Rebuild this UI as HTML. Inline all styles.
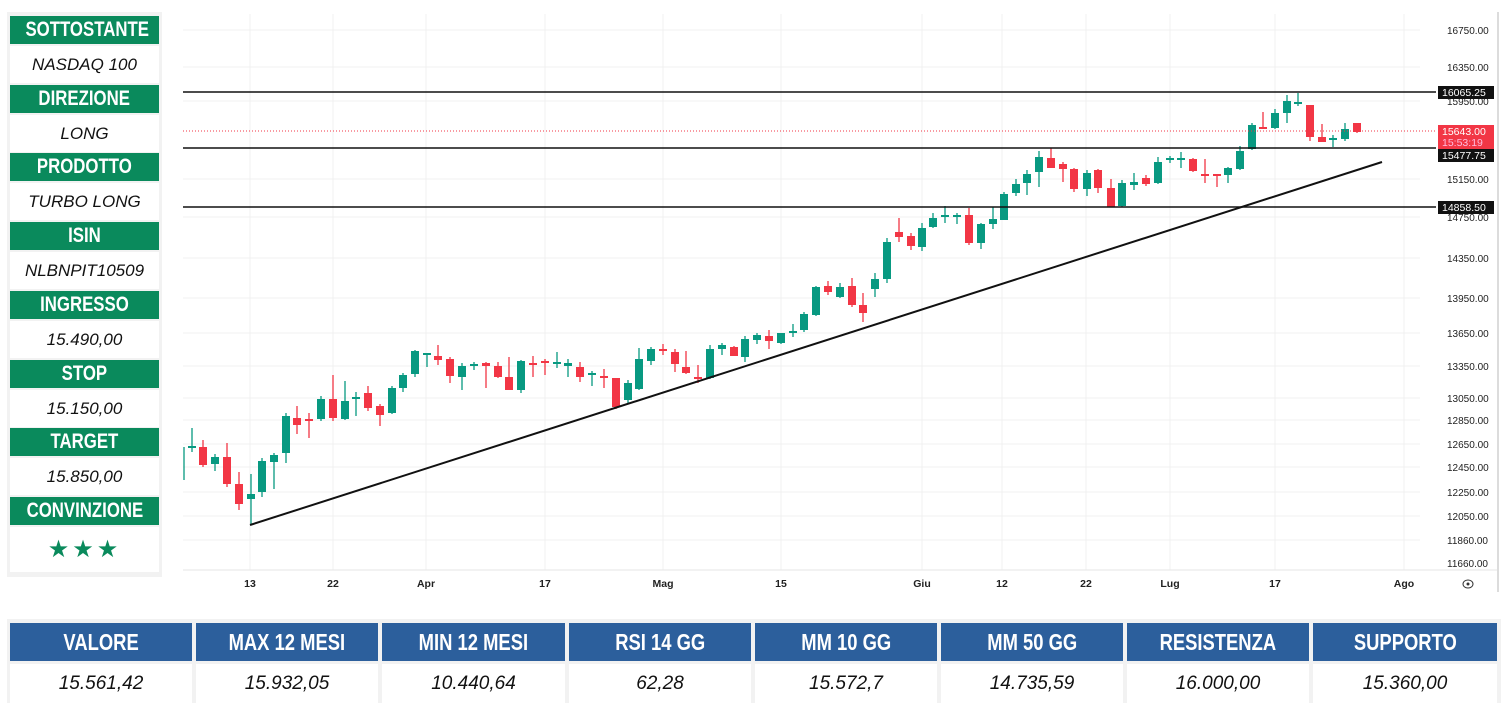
<!DOCTYPE html>
<html><head><meta charset="utf-8"><style>
body{margin:0;width:1511px;height:703px;background:#fff;position:relative;overflow:hidden;font-family:"Liberation Sans",sans-serif}
.panel{position:absolute;left:7px;top:12px;width:155px;height:565px;background:#f2f2f2}
.h{position:absolute;left:3px;width:149px;height:28px;background:#0a8a5c;color:#fff;font-weight:bold;font-size:21px;line-height:28px;text-align:center;white-space:nowrap}
.h span,.th span{display:inline-block;transform:scaleX(0.8)}
.v{position:absolute;left:3px;width:149px;height:37px;background:#fff;color:#111;font-style:italic;font-size:17px;line-height:37px;text-align:center}
.tb{position:absolute;top:619px;left:7px;width:1494px;height:84px;background:#f2f2f2}
.th{position:absolute;top:4px;height:38px;background:#2c5f9c;color:#fff;font-weight:bold;font-size:23px;line-height:38px;text-align:center;white-space:nowrap}
.td{position:absolute;top:45px;height:39px;background:#fff;color:#111;font-style:italic;font-size:19px;line-height:39px;text-align:center}
</style></head><body>
<div class="panel">
<div class="h" style="top:4px"><span>SOTTOSTANTE</span></div><div class="v" style="top:34px">NASDAQ 100</div>
<div class="h" style="top:73px"><span>DIREZIONE</span></div><div class="v" style="top:103px">LONG</div>
<div class="h" style="top:141px"><span>PRODOTTO</span></div><div class="v" style="top:171px">TURBO LONG</div>
<div class="h" style="top:210px"><span>ISIN</span></div><div class="v" style="top:240px">NLBNPIT10509</div>
<div class="h" style="top:279px"><span>INGRESSO</span></div><div class="v" style="top:309px">15.490,00</div>
<div class="h" style="top:348px"><span>STOP</span></div><div class="v" style="top:378px">15.150,00</div>
<div class="h" style="top:416px"><span>TARGET</span></div><div class="v" style="top:446px">15.850,00</div>
<div class="h" style="top:485px"><span>CONVINZIONE</span></div><div class="v" style="top:515px;height:45px;line-height:45px;color:#0a8a5c;font-style:normal;font-size:24px;letter-spacing:3px">★★★</div>
</div>
<svg id="ch" width="1511" height="610" style="position:absolute;left:0;top:0" xmlns="http://www.w3.org/2000/svg">
<g stroke="#f0f0f0" stroke-width="1">
<line x1="183" y1="30" x2="1420" y2="30"/><line x1="183" y1="67" x2="1420" y2="67"/><line x1="183" y1="101" x2="1420" y2="101"/><line x1="183" y1="179" x2="1420" y2="179"/><line x1="183" y1="217" x2="1420" y2="217"/><line x1="183" y1="258" x2="1420" y2="258"/><line x1="183" y1="298" x2="1420" y2="298"/><line x1="183" y1="333" x2="1420" y2="333"/><line x1="183" y1="366" x2="1420" y2="366"/><line x1="183" y1="398" x2="1420" y2="398"/><line x1="183" y1="420" x2="1420" y2="420"/><line x1="183" y1="444" x2="1420" y2="444"/><line x1="183" y1="467" x2="1420" y2="467"/><line x1="183" y1="492" x2="1420" y2="492"/><line x1="183" y1="516" x2="1420" y2="516"/><line x1="183" y1="540" x2="1420" y2="540"/>
<line x1="250" y1="14" x2="250" y2="570"/><line x1="333" y1="14" x2="333" y2="570"/><line x1="426" y1="14" x2="426" y2="570"/><line x1="545" y1="14" x2="545" y2="570"/><line x1="663" y1="14" x2="663" y2="570"/><line x1="781" y1="14" x2="781" y2="570"/><line x1="922" y1="14" x2="922" y2="570"/><line x1="1002" y1="14" x2="1002" y2="570"/><line x1="1086" y1="14" x2="1086" y2="570"/><line x1="1170" y1="14" x2="1170" y2="570"/><line x1="1275" y1="14" x2="1275" y2="570"/><line x1="1404" y1="14" x2="1404" y2="570"/>
</g>
<line x1="183" y1="570" x2="1497" y2="570" stroke="#e6e6e6"/>
<line x1="1498" y1="12" x2="1498" y2="592" stroke="#dcdcdc" stroke-width="2"/>
<g id="cd"></g>
<line x1="183" y1="131" x2="1436" y2="131" stroke="#f23645" stroke-width="1" stroke-dasharray="1,2"/>
<g stroke="#111" stroke-width="1.6">
<line x1="183" y1="92" x2="1436" y2="92"/><line x1="183" y1="148" x2="1436" y2="148"/><line x1="183" y1="207" x2="1436" y2="207"/>
<line x1="250" y1="525" x2="1382" y2="162" stroke-width="2"/>
</g>
<g font-size="10" fill="#222" font-family="Liberation Sans,sans-serif">
<text x="1447" y="34">16750.00</text><text x="1447" y="71">16350.00</text><text x="1447" y="105">15950.00</text><text x="1447" y="183">15150.00</text><text x="1447" y="221">14750.00</text><text x="1447" y="262">14350.00</text><text x="1447" y="302">13950.00</text><text x="1447" y="337">13650.00</text><text x="1447" y="370">13350.00</text><text x="1447" y="402">13050.00</text><text x="1447" y="424">12850.00</text><text x="1447" y="448">12650.00</text><text x="1447" y="471">12450.00</text><text x="1447" y="496">12250.00</text><text x="1447" y="520">12050.00</text><text x="1447" y="544">11860.00</text><text x="1447" y="567">11660.00</text>
</g>
<rect x="1438" y="86" width="56" height="13" fill="#111"/><text x="1442" y="96" font-size="10.5" fill="#fff">16065.25</text>
<rect x="1438" y="125" width="56" height="24" fill="#f23645"/><text x="1442" y="135" font-size="10.5" fill="#fff">15643.00</text><text x="1442" y="146" font-size="10.5" fill="#fbd">15:53:19</text>
<rect x="1438" y="149" width="56" height="13" fill="#111"/><text x="1442" y="159" font-size="10.5" fill="#fff">15477.75</text>
<rect x="1438" y="201" width="56" height="13" fill="#111"/><text x="1442" y="211" font-size="10.5" fill="#fff">14858.50</text>
<g font-size="10.5" fill="#222" text-anchor="middle" font-weight="bold">
<text x="250" y="587">13</text><text x="333" y="587">22</text><text x="426" y="587">Apr</text><text x="545" y="587">17</text><text x="663" y="587">Mag</text><text x="781" y="587">15</text><text x="922" y="587">Giu</text><text x="1002" y="587">12</text><text x="1086" y="587">22</text><text x="1170" y="587">Lug</text><text x="1275" y="587">17</text><text x="1404" y="587">Ago</text>
</g>
<ellipse cx="1468" cy="584" rx="5" ry="4" fill="none" stroke="#333"/><circle cx="1468" cy="584" r="1.5" fill="#333"/>
</svg>
<div class="tb">
<div class="th" style="left:3px;width:182px"><span>VALORE</span></div><div class="td" style="left:3px;width:182px">15.561,42</div>
<div class="th" style="left:189px;width:182px"><span>MAX 12 MESI</span></div><div class="td" style="left:189px;width:182px">15.932,05</div>
<div class="th" style="left:375px;width:183px"><span>MIN 12 MESI</span></div><div class="td" style="left:375px;width:183px">10.440,64</div>
<div class="th" style="left:562px;width:182px"><span>RSI 14 GG</span></div><div class="td" style="left:562px;width:182px">62,28</div>
<div class="th" style="left:748px;width:182px"><span>MM 10 GG</span></div><div class="td" style="left:748px;width:182px">15.572,7</div>
<div class="th" style="left:934px;width:182px"><span>MM 50 GG</span></div><div class="td" style="left:934px;width:182px">14.735,59</div>
<div class="th" style="left:1120px;width:182px"><span>RESISTENZA</span></div><div class="td" style="left:1120px;width:182px">16.000,00</div>
<div class="th" style="left:1306px;width:184px"><span>SUPPORTO</span></div><div class="td" style="left:1306px;width:184px">15.360,00</div>
</div>
<script>
var D=[[184,447,480,447,480,1],[192,446,448,428,452,1],[203,447,465,440,467,0],[215,457,464,454,471,1],[227,457,484,443,487,0],[239,484,504,472,510,0],[251,494,499,474,525,1],[262,461,492,458,497,1],[274,455,462,453,489,1],[286,416,453,413,463,1],[297,418,425,406,434,0],[309,419,421,413,438,0],[321,399,419,396,421,1],[333,399,418,375,421,0],[345,401,419,381,420,1],[356,397,399,392,416,1],[368,393,408,386,411,0],[380,406,415,404,426,0],[392,388,413,386,414,1],[403,375,388,373,392,1],[415,351,374,350,377,1],[427,353,355,353,367,1],[438,356,360,345,365,0],[450,359,376,357,383,0],[462,366,377,363,390,1],[474,364,366,362,370,1],[486,363,366,362,388,0],[498,366,377,362,378,0],[509,377,390,357,390,0],[521,361,390,360,393,1],[533,363,365,356,377,0],[545,361,363,359,375,0],[557,362,364,352,368,1],[568,363,366,359,377,1],[580,367,377,362,382,0],[592,373,375,371,386,1],[604,376,378,369,388,0],[616,378,407,378,409,0],[628,383,400,380,404,1],[639,359,389,348,390,1],[651,349,361,347,365,1],[663,349,351,344,355,0],[675,352,364,349,372,0],[686,367,373,351,374,0],[698,377,379,365,383,0],[710,349,378,345,379,1],[722,345,349,343,355,1],[734,347,356,346,356,0],[745,339,357,336,362,1],[757,335,340,333,344,1],[769,336,341,330,349,0],[781,333,343,333,344,1],[793,331,333,324,337,1],[804,314,330,312,332,1],[816,287,315,286,316,1],[828,286,292,281,295,0],[840,287,297,283,298,1],[852,286,305,278,307,0],[863,305,313,293,322,0],[875,279,289,273,297,1],[887,242,279,238,283,1],[899,232,237,218,242,0],[911,236,246,233,250,0],[922,228,247,223,251,1],[933,218,227,213,228,1],[945,215,217,206,223,1],[957,215,217,213,224,1],[969,215,243,208,245,0],[981,224,243,223,249,1],[993,219,224,207,229,1],[1004,194,220,192,220,1],[1016,184,193,179,196,1],[1027,174,183,170,195,1],[1039,157,172,151,187,1],[1051,158,168,148,168,0],[1063,164,169,162,182,0],[1074,169,189,168,192,0],[1087,173,189,170,196,1],[1098,170,188,169,193,0],[1111,188,207,179,207,0],[1122,183,206,180,207,1],[1134,182,185,173,190,1],[1146,178,184,175,186,0],[1158,162,183,157,184,1],[1170,158,160,156,163,1],[1181,158,160,152,168,1],[1193,159,171,158,172,0],[1205,174,176,159,183,0],[1217,174,176,175,187,0],[1228,168,175,167,183,1],[1240,151,169,146,170,1],[1252,125,149,123,150,1],[1263,127,129,112,128,0],[1275,113,128,109,129,1],[1287,101,113,95,123,1],[1298,102,104,93,106,1],[1310,105,137,105,141,0],[1322,137,142,124,142,0],[1333,138,140,135,147,1],[1345,129,139,123,141,1],[1357,123,132,123,133,0]];
var s='';D.forEach(function(d,i){var c=d[5]?'#089981':'#f23645';var h=Math.max(d[2]-d[1],1.5);
s+='<line x1="'+d[0]+'" x2="'+d[0]+'" y1="'+d[3]+'" y2="'+d[4]+'" stroke="'+c+'" stroke-width="1.3"/>';
if(i>0)s+='<rect x="'+(d[0]-4)+'" y="'+d[1]+'" width="8" height="'+h+'" fill="'+c+'"/>';});
document.getElementById('cd').innerHTML=s;
</script>
</body></html>
